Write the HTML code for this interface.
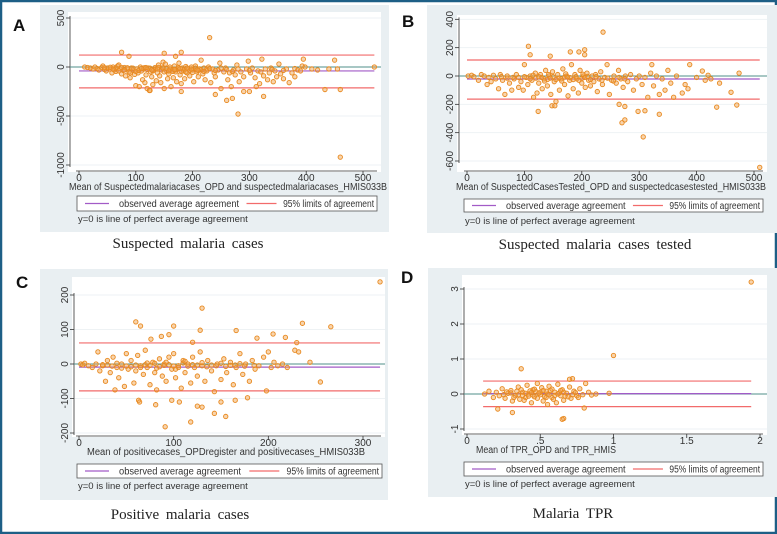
<!DOCTYPE html>
<html><head><meta charset="utf-8"><style>
html,body{margin:0;padding:0;background:#fff;}
svg{display:block;font-family:"Liberation Sans",sans-serif;}
</style></head><body>
<svg id="fig" width="777" height="534" viewBox="0 0 777 534" xmlns="http://www.w3.org/2000/svg">
<rect x="1" y="1" width="775" height="532" fill="#fff" stroke="#1d5f86" stroke-width="2.5"/>
</svg>
<script>
// ---- Panel A data ----
const aXTicks=[0,100,200,300,400,500];
const aYTicks=[500,0,-500,-1000];
const aMeanDiff=-40, aUpper=122, aLower=-213, aXRange=[0,520];
const aPoints=[[10,0],[15,-5],[20,-10],[25,-20],[28,0],[32,-15],[35,-30],[40,-5],[42,10],[45,-25],[48,-40],[50,-10],[55,-20],[58,-60],[60,0],[62,-30],[65,-45],[68,10],[70,20],[72,-15],[75,-70],[78,-35],[80,-5],[82,-90],[85,-20],[88,-50],[90,-110],[92,-10],[95,-30],[98,-75],[100,-190],[102,-20],[104,-60],[106,-200],[108,0],[110,-40],[112,-130],[114,-20],[116,-160],[118,-80],[120,-220],[122,-10],[124,-240],[126,-50],[128,-100],[130,-180],[132,-30],[134,-5],[136,-140],[138,-60],[140,20],[142,-90],[144,-160],[146,-10],[148,50],[150,-220],[152,30],[154,-40],[156,-120],[158,-70],[160,0],[162,-200],[164,-30],[166,-110],[168,10],[170,-50],[172,-150],[174,-20],[176,40],[178,-80],[180,-170],[182,-10],[184,-40],[186,-120],[188,5],[190,-60],[192,-20],[195,-90],[198,0],[200,-30],[202,-150],[205,10],[208,-50],[210,-100],[212,-20],[215,70],[218,-70],[220,-10],[222,-130],[225,-40],[228,0],[232,-160],[235,-20],[238,-60],[240,-100],[245,-30],[248,40],[250,-220],[255,-50],[258,-10],[262,-130],[265,-60],[268,-200],[272,-30],[275,-80],[278,20],[282,-150],[285,-50],[290,-100],[295,-20],[298,60],[302,-60],[305,-10],[310,-110],[312,-200],[315,-40],[318,-170],[322,80],[325,-90],[328,-20],[332,-130],[335,-60],[338,-10],[342,-150],[345,-40],[348,-100],[352,30],[355,-70],[360,-120],[365,-20],[370,-160],[375,-60],[380,-100],[385,-30],[390,-40],[393,10],[398,0],[410,-20],[420,-30],[145,-30],[155,-15],[165,-45],[175,-8],[185,-25],[195,-35],[205,-12],[215,-28],[225,-22],[135,-18],[125,-12],[115,-8],[105,-35],[95,-12],[85,-8],[75,-5],[65,-12],[55,-3],[45,-8],[60,-20],[70,-40],
[110,-15],[120,-25],[130,-40],[140,-5],[150,-50],[160,-20],[170,-30],[180,-45],[190,-10],[200,-55],[210,-35],[220,-45],[230,-15],[240,-35],[250,-10],[260,-25],[270,-45],[280,-20],[300,-35],[320,-50],[340,-25],[360,-35],[380,-15],[100,-45],[90,-60],[80,-30],[118,-5],[128,-30],[138,-20],[148,-8],[158,-40],[168,-25],[178,-15],[188,-50],[198,-20],[208,-30],
[230,300],[75,150],[180,150],[150,140],[170,110],[88,110],[280,-480],[460,-920],[520,0],[450,70],[395,80],[433,-230],[460,-230],[325,-300],[260,-340],[270,-320],[240,-280],[290,-250],[300,-250],[180,-250],[125,-240],[455,-20],[440,-20]];

// ---- Panel B data ----
const bXTicks=[0,100,200,300,400,500];
const bYTicks=[400,200,0,-200,-400,-600];
const bMeanDiff=-21, bUpper=113, bLower=-163, bXRange=[0,510];
const bPoints=[[2,0],[8,5],[12,-5],[20,-30],[25,10],[30,0],[35,-60],[38,-10],[42,-40],[46,5],[50,-20],[55,-90],[58,10],[62,-30],[66,-130],[70,0],[74,-50],[78,-100],[82,-20],[86,10],[90,-80],[94,-40],[98,-100],[100,80],[103,-10],[106,-60],[110,0],[113,-30],[116,-150],[119,20],[122,-120],[125,-50],[128,10],[131,-90],[134,-20],[137,40],[140,-70],[143,0],[146,-130],[149,30],[152,-40],[155,-180],[158,10],[161,-100],[164,-20],[167,50],[170,-60],[173,0],[176,-140],[179,-30],[182,80],[185,-90],[188,10],[191,-20],[194,-120],[197,40],[200,-50],[203,0],[206,-80],[209,20],[212,-30],[215,-70],[218,0],[221,-40],[224,10],[227,-110],[230,-20],[233,30],[236,-60],[240,-10],[244,80],[248,-130],[252,-30],[256,0],[260,-50],[264,40],[268,-20],[272,-80],[276,0],[280,-40],[285,10],[290,-100],[295,-20],[300,0],[305,-60],[310,-10],[315,-150],[320,20],[325,-70],[330,0],[335,-130],[340,-20],[345,-100],[350,40],[355,-50],[360,-150],[365,0],[375,-120],[380,-60],[385,-90],[400,-10],[415,-30],[420,5],[425,-20],[130,-10],[150,-5],[160,-15],[170,-8],[180,-12],[190,-5],[200,-18],[210,-3],[140,-25],[120,-15],[100,-5],[80,-10],
[110,-20],[125,-5],[135,-35],[145,-15],[155,-25],[165,-35],[175,-5],[185,-25],[195,-30],[205,-10],[215,-25],[225,-5],[235,-30],[245,-15],[255,-35],[265,-10],[275,-20],[60,-5],[70,-15],[90,-10],[115,5],[142,10],[172,15],[202,12],
[237,310],[107,210],[205,185],[110,150],[205,150],[145,140],[180,170],[195,170],[388,80],[322,80],[510,-645],[307,-430],[335,-270],[270,-330],[275,-310],[298,-250],[310,-245],[265,-200],[275,-215],[124,-250],[148,-210],[153,-210],[435,-220],[470,-205],[460,-115],[474,20],[410,35],[440,-50]];

// ---- Panel C data ----
const cXTicks=[0,100,200,300];
const cYTicks=[200,100,0,-100,-200];
const cMeanDiff=-9, cUpper=61, cLower=-78, cXRange=[0,318];
const cPoints=[[2,0],[4,-2],[6,2],[10,-5],[14,-10],[18,0],[20,35],[22,-20],[25,-5],[28,-50],[30,10],[33,-25],[36,20],[38,-75],[40,-10],[42,-40],[45,0],[48,-65],[50,30],[52,-15],[55,10],[58,-55],[60,-20],[62,25],[65,-5],[68,-30],[70,40],[72,-10],[75,-60],[78,5],[80,-25],[82,-75],[85,15],[88,-35],[90,0],[92,-50],[95,20],[98,-15],[100,30],[102,-40],[105,-5],[108,-70],[110,10],[112,-25],[115,0],[118,-55],[120,20],[122,-10],[125,-35],[128,35],[130,-5],[133,-50],[136,10],[140,-20],[143,-80],[146,0],[150,-45],[153,15],[156,-25],[160,5],[163,-60],[166,-10],[170,30],[173,-30],[176,0],[180,-50],[183,10],[186,-15],[190,-5],[195,20],[198,-78],[200,35],[203,-10],[206,5],[210,-5],[215,0],[220,-10],[228,40],[232,35],[60,-3],[70,-2],[80,2],[90,-4],[100,-6],[110,3],[120,-2],[130,4],[140,-3],[150,2],[160,-4],[170,1],[50,-6],[40,2],[30,-3],
[55,-8],[65,-10],[75,-4],[85,-8],[95,-2],[105,-10],[115,-6],[125,-3],[135,-8],[145,-5],[155,-7],[165,-3],[175,-6],[185,-4],[35,-6],[25,-2],[45,-12],[72,3],[82,-12],[92,5],[102,-15],[112,8],
[318,238],[130,162],[60,122],[65,110],[100,110],[128,98],[166,97],[236,118],[266,108],[205,87],[188,75],[218,77],[87,80],[95,85],[76,72],[120,63],[230,62],[91,-182],[118,-168],[155,-152],[143,-143],[81,-118],[125,-122],[130,-125],[98,-105],[106,-110],[150,-110],[165,-105],[63,-105],[64,-110],[178,-98],[255,-52],[244,5]];

// ---- Panel D data ----
const dXTicks=[0,0.5,1,1.5,2];
const dXTickLabels=["0",".5","1","1.5","2"];
const dYTicks=[3,2,1,0,-1];
const dMeanDiff=0.01, dUpper=0.37, dLower=-0.36, dXRange=[0.11,1.94];
const dPoints=[[0.12,0],[0.15,0.08],[0.18,-0.1],[0.2,0.05],[0.22,-0.05],[0.24,0.15],[0.26,-0.12],[0.28,0.02],[0.3,0.1],[0.31,-0.2],[0.33,-0.05],[0.35,0.2],[0.36,-0.15],[0.38,0.05],[0.4,-0.1],[0.41,0.25],[0.42,0],[0.44,-0.25],[0.45,0.12],[0.46,-0.08],[0.48,0.3],[0.5,-0.02],[0.51,0.18],[0.52,-0.2],[0.54,0.08],[0.55,-0.3],[0.56,0.22],[0.58,-0.1],[0.6,0.05],[0.61,-0.25],[0.62,0.28],[0.64,-0.05],[0.65,0.12],[0.66,-0.18],[0.68,0.02],[0.7,0.2],[0.71,-0.12],[0.73,0.08],[0.75,-0.05],[0.77,0.15],[0.79,-0.02],[0.81,0.3],[0.83,0.05],[0.85,-0.03],[0.88,0],[0.4,0.02],[0.45,-0.03],[0.5,0.05],[0.55,0],[0.6,-0.04],[0.47,0.07],[0.53,-0.07],[0.43,0.09],[0.57,0.1],[0.38,-0.04],[0.63,0.03],[0.67,-0.06],[0.35,-0.02],[0.3,0.03],
[0.42,-0.06],[0.44,0.04],[0.46,0.14],[0.48,-0.12],[0.49,0.02],[0.52,0.1],[0.54,-0.1],[0.56,-0.02],[0.58,0.14],[0.59,-0.15],[0.62,0.0],[0.64,0.1],[0.66,0.05],[0.69,-0.08],[0.72,-0.02],[0.74,0.04],[0.76,-0.1],[0.34,0.08],[0.32,-0.1],[0.27,0.06],[0.25,-0.02],[0.37,0.12],[0.39,-0.18],
[1.94,3.2],[1.0,1.1],[0.37,0.72],[0.66,-0.7],[0.65,-0.72],[0.31,-0.53],[0.21,-0.43],[0.8,-0.4],[0.72,0.44],[0.7,0.42],[0.97,0.02]];

const NS="http://www.w3.org/2000/svg";
const svg=document.getElementById('fig');
function el(tag,attrs,parent,text){const e=document.createElementNS(NS,tag);for(const k in attrs)e.setAttribute(k,attrs[k]);if(text!==undefined)e.textContent=text;(parent||svg).appendChild(e);return e;}

function panel(p){
  const g=el('g',{});
  
  
  const sx=v=>p.x0px+(v-p.x0)/(p.x1-p.x0)*(p.x1px-p.x0px);
  const sy=v=>p.y0px+(v-p.y0)/(p.y1-p.y0)*(p.y1px-p.y0px);
  const bg=el('rect',{x:p.bg[0],y:p.bg[1],width:p.bg[2]-p.bg[0],height:p.bg[3]-p.bg[1],fill:'#e9eff2'},g);
  
  
  const pa=el('rect',{x:p.plot[0],y:p.plot[1],width:p.plot[2]-p.plot[0],height:p.plot[3]-p.plot[1],fill:'#fff'},g);
  
  
  const clipId='clip'+p.id;
  const cp=el('clipPath',{id:clipId},g);el('rect',{x:p.bg[0],y:p.bg[1],width:p.bg[2]-p.bg[0],height:p.bg[3]-p.bg[1]},cp);
  p.yTicks.forEach(v=>{const l=el('line',{x1:p.plot[0],x2:p.plot[2],y1:sy(v),y2:sy(v),stroke:'#eef2f4','stroke-width':1},g);});
  const ya=el('line',{x1:p.plot[0]+2,x2:p.plot[0]+2,y1:sy(p.yTicks[0])-2,y2:sy(p.yTicks[p.yTicks.length-1])+2,stroke:'#333','stroke-width':0.8},g);
  
  const xa=el('line',{x1:sx(p.xTicks[0])-3,x2:p.plot[2]-4,y1:p.plot[3]-1,y2:p.plot[3]-1,stroke:'#333','stroke-width':0.8},g);
  
  p.yTicks.forEach(v=>{
    el('line',{x1:p.plot[0]-2,x2:p.plot[0]+2,y1:sy(v),y2:sy(v),stroke:'#333','stroke-width':0.8},g);
    const t=el('text',{x:0,y:0,transform:`translate(${p.plot[0]-4},${sy(v)}) rotate(-90)`,'text-anchor':'middle','font-size':10,fill:'#333'},g,String(v));
    
  });
  p.xTicks.forEach((v,i)=>{
    el('line',{x1:sx(v),x2:sx(v),y1:p.plot[3]-1,y2:p.plot[3]+3,stroke:'#333','stroke-width':0.8},g);
    const t=el('text',{x:sx(v),y:p.plot[3]+9,'text-anchor':'middle','font-size':10,fill:'#333'},g,p.xLabels?p.xLabels[i]:String(v));
    
  });
  const xt=el('text',{x:p.xTitleX,y:p.plot[3]+18,'text-anchor':'middle','font-size':10,fill:'#333',textLength:p.xTitleW,lengthAdjust:'spacingAndGlyphs'},g,p.xTitle);
  
  const yt=el('text',{x:0,y:0,transform:`translate(${p.yTitleX},${p.yTitleY}) rotate(-90)`,'text-anchor':p.yAnchor,'font-size':10,fill:'#333','clip-path':`url(#${clipId})`},g,p.yTitle);
  
  const z=el('line',{x1:p.plot[0]+2,x2:p.plot[2],y1:sy(0),y2:sy(0),stroke:'#4f8f8a','stroke-width':1},g);
  
  const up=el('line',{x1:sx(p.xr[0]),x2:sx(p.xr[1]),y1:sy(p.upper),y2:sy(p.upper),stroke:'#f26b6b','stroke-width':1.2},g);
  
  const lo=el('line',{x1:sx(p.xr[0]),x2:sx(p.xr[1]),y1:sy(p.lower),y2:sy(p.lower),stroke:'#f26b6b','stroke-width':1.2},g);
  
  const md=el('line',{x1:sx(p.xr[0]),x2:sx(p.xr[1]),y1:sy(p.mean),y2:sy(p.mean),stroke:'#a25bc7','stroke-width':1.2},g);
  
  p.points.forEach(d=>{
    const c=el('circle',{cx:sx(d[0]),cy:sy(d[1]),r:2.2,fill:'rgba(240,160,70,0.45)',stroke:'#e8891f','stroke-width':0.9},g);
    
  });
  const lg=el('g',{},g);
  
  const L=p.legend;
  el('rect',{x:L[0],y:L[1],width:L[2]-L[0],height:L[3]-L[1],fill:'#fff',stroke:'#555','stroke-width':0.8},lg);
  const cy=(L[1]+L[3])/2, w=L[2]-L[0];
  el('line',{x1:L[0]+8,x2:L[0]+32,y1:cy,y2:cy,stroke:'#a25bc7','stroke-width':1.2},lg);
  const t1=el('text',{x:L[0]+42,y:cy+3.5,'font-size':10,fill:'#333',textLength:w*0.4,lengthAdjust:'spacingAndGlyphs'},lg,'observed average agreement');
  
  el('line',{x1:L[0]+w*0.565,x2:L[0]+w*0.565+30,y1:cy,y2:cy,stroke:'#f26b6b','stroke-width':1.2},lg);
  const t2=el('text',{x:L[0]+w*0.687,y:cy+3.5,'font-size':10,fill:'#333',textLength:w*0.31-2,lengthAdjust:'spacingAndGlyphs'},lg,'95% limits of agreement');
  
  const n=el('text',{x:L[0]+1,y:p.noteY,'font-size':9.5,fill:'#333'},g,'y=0 is line of perfect average agreement');
  
  const cap=el('text',{x:p.capX,y:p.capY,'text-anchor':'middle','font-size':15,'font-family':'"Liberation Serif",serif',fill:'#222','word-spacing':3},g,p.caption);
  
  const lab=el('text',{x:p.labX,y:p.labY,'font-size':17,'font-weight':'bold',fill:'#111'},g,p.id);
  
}

panel({id:'A',bg:[40,5,389,232],plot:[68,12,381,172],x0:0,x1:500,x0px:79,x1px:363,y0:0,y1:-500,y0px:67,y1px:116,
  xTicks:aXTicks,yTicks:aYTicks,mean:aMeanDiff,upper:aUpper,lower:aLower,xr:aXRange,points:aPoints,
  xTitle:'Mean of Suspectedmalariacases_OPD and suspectedmalariacases_HMIS033B',xTitleX:228,xTitleW:318,
  yTitle:'Difference of Suspectedmalariacases_OPD and suspectedmalariacases_HMIS033B',yTitleX:58,yTitleY:242,yAnchor:'start',
  legend:[77,196,377,211],noteY:222,caption:'Suspected malaria cases',capX:188,capY:248,labX:13,labY:31});
panel({id:'B',bg:[427,5,777,233],plot:[457,15,767,172],x0:0,x1:500,x0px:467,x1px:754,y0:0,y1:-600,y0px:76,y1px:161,
  xTicks:bXTicks,yTicks:bYTicks,mean:bMeanDiff,upper:bUpper,lower:bLower,xr:bXRange,points:bPoints,
  xTitle:'Mean of SuspectedCasesTested_OPD and suspectedcasestested_HMIS033B',xTitleX:611,xTitleW:310,
  yTitle:'Difference of SuspectedCasesTested_OPD and suspectedcasestested_HMIS033B',yTitleX:446,yTitleY:242,yAnchor:'start',
  legend:[464,199,763,212],noteY:224,caption:'Suspected malaria cases tested',capX:595,capY:249,labX:402,labY:27});
panel({id:'C',bg:[40,269,388,500],plot:[72,277,385,437],x0:0,x1:300,x0px:79,x1px:363,y0:0,y1:200,y0px:364,y1px:295,
  xTicks:cXTicks,yTicks:cYTicks,mean:cMeanDiff,upper:cUpper,lower:cLower,xr:cXRange,points:cPoints,
  xTitle:'Mean of positivecases_OPDregister and positivecases_HMIS033B',xTitleX:226,xTitleW:278,
  yTitle:'Difference of positivecases_OPDregister and positivecases_HMIS033B',yTitleX:58,yTitleY:487,yAnchor:'start',
  legend:[77,464,382,478],noteY:489,caption:'Positive malaria cases',capX:180,capY:519,labX:16,labY:288});
panel({id:'D',bg:[428,268,777,497],plot:[462,275,767,435],x0:0,x1:2,x0px:467,x1px:760,y0:0,y1:3,y0px:394,y1px:289,
  xTicks:dXTicks,xLabels:dXTickLabels,yTicks:dYTicks,mean:dMeanDiff,upper:dUpper,lower:dLower,xr:dXRange,points:dPoints,
  xTitle:'Mean of TPR_OPD and TPR_HMIS',xTitleX:546,xTitleW:140,
  yTitle:'Difference of TPR_OPD and TPR_HMIS',yTitleX:446,yTitleY:356,yAnchor:'middle',
  legend:[464,462,763,476],noteY:487,caption:'Malaria TPR',capX:573,capY:518,labX:401,labY:283});
</script>
</body></html>
